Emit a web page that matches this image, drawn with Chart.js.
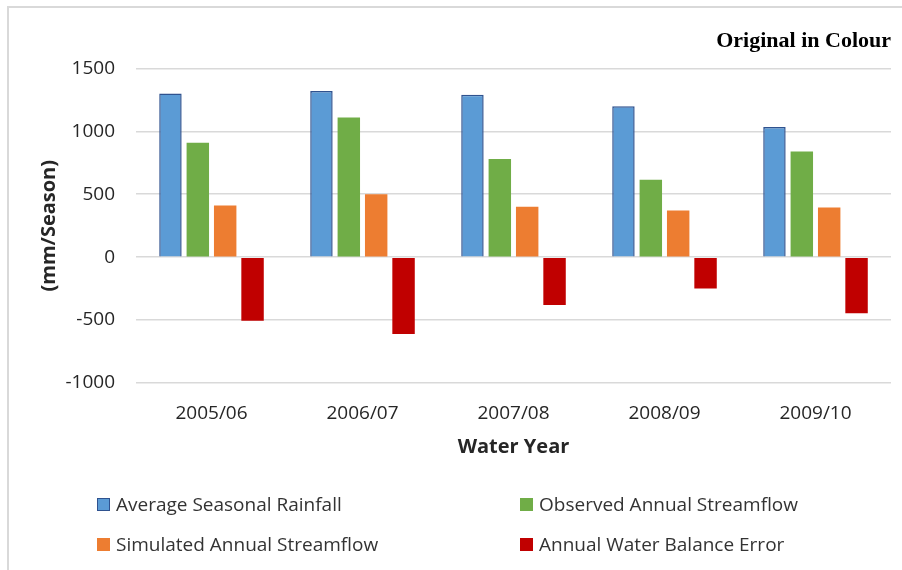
<!DOCTYPE html>
<html>
<head>
<meta charset="utf-8">
<script src="https://cdn.jsdelivr.net/npm/chart.js@4/dist/chart.umd.min.js"></script>
<style>
  body { margin: 0; background: #fff; }
  #wrap { position: relative; width: 902px; height: 570px; }
  #frame { position: absolute; left: 7px; top: 6px; right: 0; bottom: 0;
           border-top: 2px solid #d9d9d9; border-left: 2px solid #d9d9d9; }
  #legend { position: absolute; left: 97px; top: 492px;
            display: grid; grid-template-columns: 423px auto; grid-auto-rows: 40px;
            font-family: 'Open Sans', sans-serif; font-size: 19px; color: #333; }
  .item { display: flex; align-items: center; height: 24px; }
  .box { width: 13px; height: 13px; margin-right: 6px; box-sizing: border-box; }
</style>
</head>
<body>
<div id="wrap">
  <div id="frame"></div>
  <canvas id="chart" width="902" height="570"></canvas>
  <div id="legend"></div>
</div>
<script>
const years = ['2005/06', '2006/07', '2007/08', '2008/09', '2009/10'];
const rainfall = [1300, 1320, 1290, 1200, 1035];
const observedFlow = [910, 1110, 780, 615, 840];
const simulatedFlow = [410, 500, 400, 370, 395];
const balanceError = [-505, -610, -380, -250, -445];

const tickFont = { family: 'Open Sans', size: 19 };
const titleFont = { family: 'Open Sans', size: 20, weight: 'bold' };

const ctx = document.getElementById('chart').getContext('2d');
const chart = new Chart(ctx, {
    type: 'bar',
    data: {
        labels: years,
        datasets: [
            { label: 'Average Seasonal Rainfall', data: rainfall,
              backgroundColor: '#5B9BD5', borderColor: '#2F528F', borderWidth: 1.5 },
            { label: 'Observed Annual Streamflow', data: observedFlow,
              backgroundColor: '#70AD47', borderWidth: 0 },
            { label: 'Simulated Annual Streamflow', data: simulatedFlow,
              backgroundColor: '#ED7D31', borderWidth: 0 },
            { label: 'Annual Water Balance Error', data: balanceError,
              backgroundColor: '#C00000', borderWidth: 0 }
        ]
    },
    options: {
        responsive: false,
        animation: false,
        devicePixelRatio: 1,
        categoryPercentage: 0.725,
        barPercentage: 0.82,
        layout: { padding: { left: 8, right: 11, top: 0, bottom: 109 } },
        plugins: {
            legend: { display: false },
            tooltip: { enabled: false },
            title: {
                display: true,
                text: 'Original in Colour',
                align: 'end',
                color: '#000',
                font: { family: 'Liberation Serif', size: 22, weight: 'bold' },
                padding: { top: 28, bottom: 14 }
            }
        },
        scales: {
            x: {
                grid: { display: false },
                border: { display: false },
                ticks: { font: tickFont, color: '#262626', padding: 11 },
                title: { display: true, text: 'Water Year', font: titleFont, color: '#262626',
                         padding: { top: 12, bottom: 2 } },
                afterFit: s => { s.height = 78; }
            },
            y: {
                min: -1000, max: 1500,
                ticks: { stepSize: 500, font: tickFont, color: '#262626', padding: 21,
                         callback: v => String(v) },
                grid: { color: '#d9d9d9', lineWidth: 1.5, drawTicks: false },
                border: { display: false },
                title: { display: true, text: '(mm/Season)', font: titleFont, color: '#262626',
                         padding: { top: 29, bottom: 4 } },
                afterFit: s => { s.width = 128; }
            }
        }
    }
});

// legend laid out in two columns like the original
const legendEl = document.getElementById('legend');
chart.data.datasets.forEach(ds => {
    const item = document.createElement('div');
    item.className = 'item';
    const box = document.createElement('span');
    box.className = 'box';
    box.style.background = ds.backgroundColor;
    if (ds.borderWidth) box.style.border = '1px solid ' + ds.borderColor;
    item.appendChild(box);
    item.appendChild(document.createTextNode(ds.label));
    legendEl.appendChild(item);
});
</script>
</body>
</html>
